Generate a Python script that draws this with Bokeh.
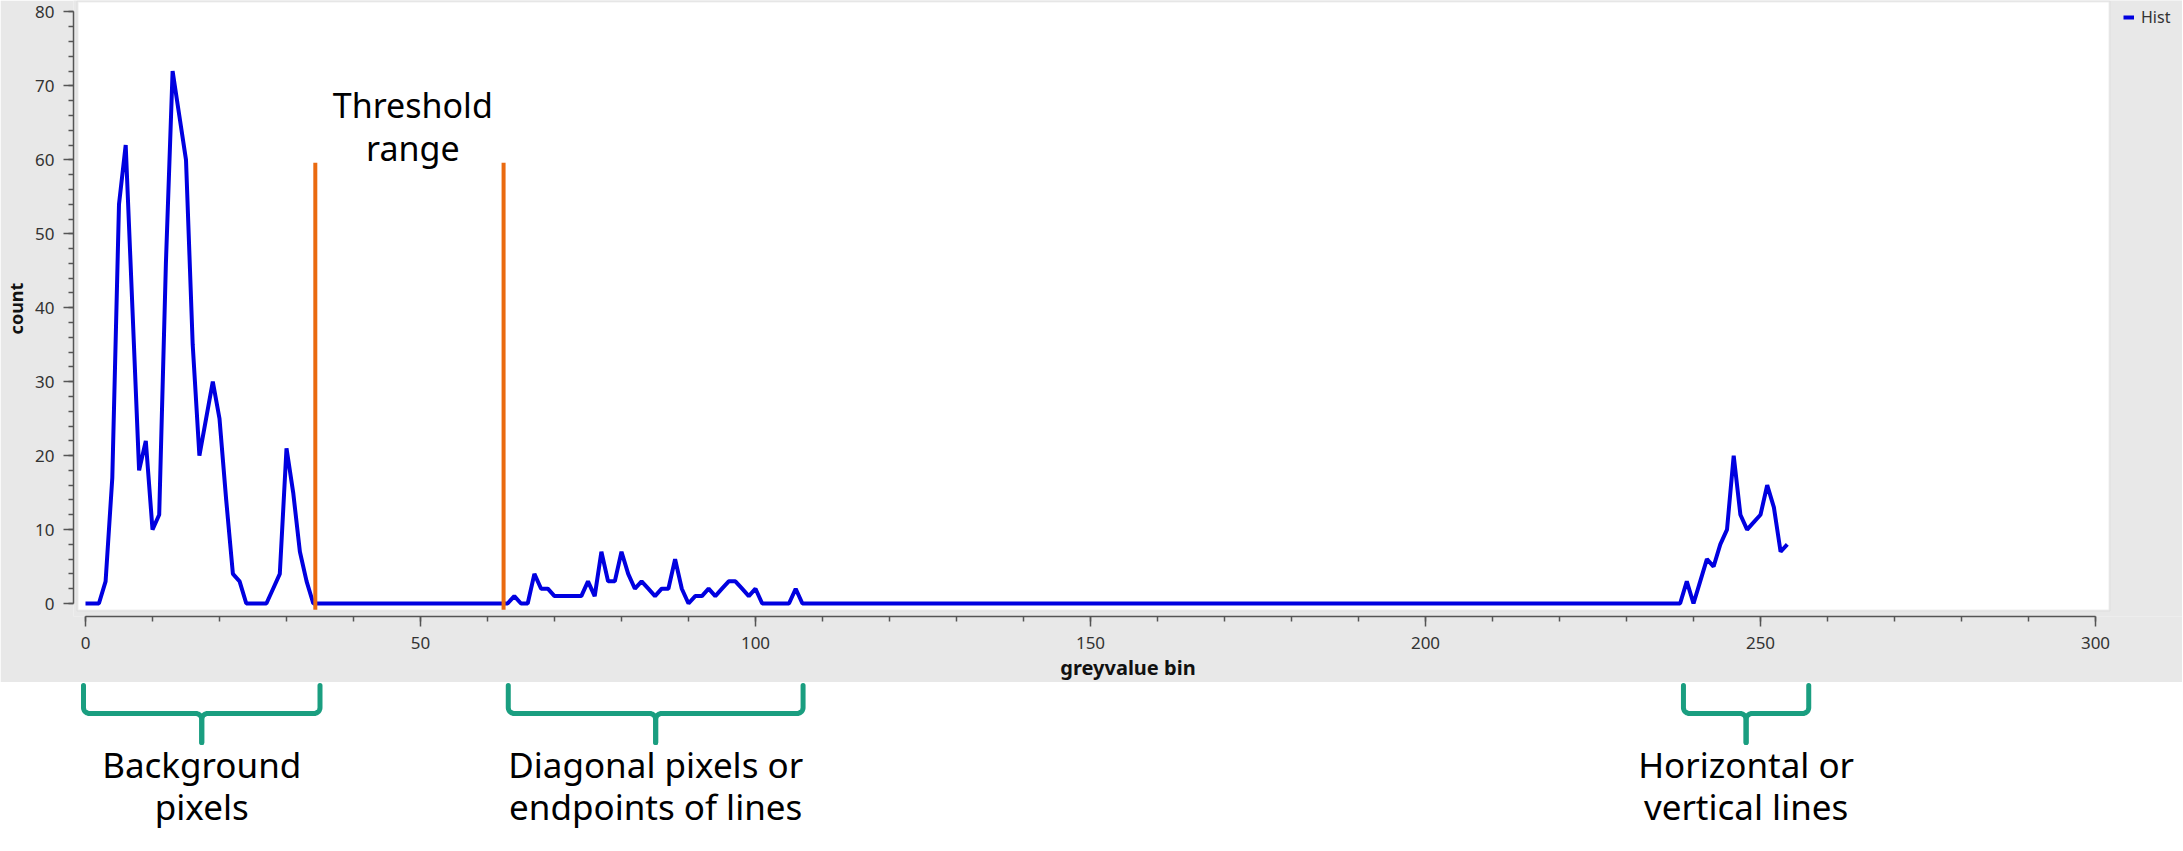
import numpy as np
from bokeh.plotting import figure
from bokeh.models import Range1d, BoxAnnotation, SingleIntervalTicker, Legend, LegendItem, Title
from bokeh.layouts import column
from bokeh.core.properties import value
from bokeh.embed import file_html
from bokeh.resources import INLINE

# ---------------- data ----------------
BINS = list(range(255))
COUNTS = [
    0, 0, 0, 3, 17, 54, 62, 40, 18, 22, 10, 12, 46, 72, 66, 60, 35, 20, 25, 30,      # 0-19
    25, 14, 4, 3, 0, 0, 0, 0, 2, 4, 21, 15, 7, 3, 0, 0, 0, 0, 0, 0,                 # 20-39
    0, 0, 0, 0, 0, 0, 0, 0, 0, 0, 0, 0, 0, 0, 0, 0, 0, 0, 0, 0,                     # 40-59
    0, 0, 0, 0, 1, 0, 0, 4, 2, 2, 1, 1, 1, 1, 1, 3, 1, 7, 3, 3,                     # 60-79
    7, 4, 2, 3, 2, 1, 2, 2, 6, 2, 0, 1, 1, 2, 1, 2, 3, 3, 2, 1,                     # 80-99
    2, 0, 0, 0, 0, 0, 2, 0, 0, 0, 0, 0, 0, 0, 0, 0, 0, 0, 0, 0,                     # 100-119
    0, 0, 0, 0, 0, 0, 0, 0, 0, 0, 0, 0, 0, 0, 0, 0, 0, 0, 0, 0,                     # 120-139
    0, 0, 0, 0, 0, 0, 0, 0, 0, 0, 0, 0, 0, 0, 0, 0, 0, 0, 0, 0,                     # 140-159
    0, 0, 0, 0, 0, 0, 0, 0, 0, 0, 0, 0, 0, 0, 0, 0, 0, 0, 0, 0,                     # 160-179
    0, 0, 0, 0, 0, 0, 0, 0, 0, 0, 0, 0, 0, 0, 0, 0, 0, 0, 0, 0,                     # 180-199
    0, 0, 0, 0, 0, 0, 0, 0, 0, 0, 0, 0, 0, 0, 0, 0, 0, 0, 0, 0,                     # 200-219
    0, 0, 0, 0, 0, 0, 0, 0, 0, 0, 0, 0, 0, 0, 0, 0, 0, 0, 0, 3,                     # 220-239
    0, 3, 6, 5, 8, 10, 20, 12, 10, 11, 12, 16, 13, 7, 8,                            # 240-254
]
SERIES_NAME = "Hist"
THRESHOLDS = [34.3, 62.4]
THRESH_TOP = 59.6
THRESH_LABEL = ["Threshold", "range"]
X_LABEL = "greyvalue bin"
Y_LABEL = "count"
X_BOUNDS = (0, 300)
Y_BOUNDS = (0, 80)
BRACKETS = [(-0.3, 35.0), (63.1, 107.1), (238.5, 257.2)]
BRACKET_LABELS = [["Background", "pixels"],
                  ["Diagonal pixels or", "endpoints of lines"],
                  ["Horizontal or", "vertical lines"]]

# ---------------- style / layout ----------------
W = 2182
TOP_H = 682
BOT_H = 168
GREY = "#e8e8e8"
BLUE = "#0000e0"
ORANGE = "#ea6a10"
TEAL = "#1a9e80"
AXIS_COL = "#555555"
TXT_COL = "#333333"
FONT = "Noto Sans"
PX_PER_BIN = 6.7

p = figure(width=W, height=TOP_H,
           x_range=Range1d(-1.791, 312.985), y_range=Range1d(-1.758, 81.555),
           output_backend="svg", toolbar_location=None,
           min_border_left=73, min_border_right=0, min_border_top=0, min_border_bottom=66)
p.background_fill_color = GREY
p.border_fill_color = GREY
p.outline_line_color = None
p.grid.visible = False

white = BoxAnnotation(left=-1.194, right=302.09, bottom=-0.947, top=81.42,
                      fill_color="white", fill_alpha=1.0,
                      line_color="#c8c8c8", line_width=2, level="underlay")
p.add_layout(white)

line_r = p.line(BINS, COUNTS, line_color=BLUE, line_width=4)

p.segment(x0=THRESHOLDS, y0=[-0.85] * len(THRESHOLDS), x1=THRESHOLDS,
          y1=[THRESH_TOP] * len(THRESHOLDS), line_color=ORANGE, line_width=4)

tx = (THRESHOLDS[0] + THRESHOLDS[1]) / 2 + 0.5
p.text(x=[tx, tx], y=[67.41, 61.54], text=THRESH_LABEL,
       text_align="center", text_baseline="alphabetic",
       text_font=value(FONT), text_font_size=value("34px"), text_color="black")

# axes
p.xaxis.ticker = SingleIntervalTicker(interval=50, num_minor_ticks=5)
p.yaxis.ticker = SingleIntervalTicker(interval=10, num_minor_ticks=5)
p.xaxis.bounds = X_BOUNDS
p.yaxis.bounds = Y_BOUNDS
p.yaxis.axis_label = Y_LABEL
for ax in (p.xaxis, p.yaxis):
    ax.axis_line_color = AXIS_COL
    ax.axis_line_width = 1.5
    ax.major_tick_line_color = AXIS_COL
    ax.minor_tick_line_color = AXIS_COL
    ax.major_tick_line_width = 1.5
    ax.minor_tick_line_width = 1.5
    ax.major_tick_in = 0
    ax.major_tick_out = 10
    ax.minor_tick_in = 0
    ax.minor_tick_out = 5
    ax.major_label_text_font = FONT
    ax.major_label_text_font_size = "17px"
    ax.major_label_text_color = TXT_COL
    ax.axis_label_text_font = FONT
    ax.axis_label_text_font_size = "18px"
    ax.axis_label_text_font_style = "bold"
    ax.axis_label_text_color = "#111111"
p.xaxis.major_label_standoff = 10
p.yaxis.major_label_standoff = 9
p.yaxis.axis_label_standoff = 4

xtitle = Title(text=X_LABEL, align="center", offset=-30, standoff=0,
               text_font=FONT, text_font_size="20px", text_font_style="bold",
               text_color="#111111")
p.add_layout(xtitle, "below")

legend = Legend(items=[LegendItem(label=SERIES_NAME, renderers=[line_r])],
                location=(2050, 588), background_fill_alpha=0, border_line_alpha=0,
                padding=0, margin=0, spacing=0, glyph_width=11, glyph_height=16,
                label_height=16, label_standoff=7,
                label_text_font=FONT, label_text_font_size="16px", label_text_color=TXT_COL)
p.add_layout(legend)

# ---------------- annotation strip below ----------------
p2 = figure(width=W, height=BOT_H, x_range=p.x_range, y_range=Range1d(BOT_H, 0),
            x_axis_location=None, y_axis_location=None,
            output_backend="svg", toolbar_location=None,
            min_border_left=73, min_border_right=0, min_border_top=0, min_border_bottom=0)
p2.background_fill_color = "white"
p2.border_fill_color = "white"
p2.outline_line_color = None
p2.grid.visible = False

Y_TOP, Y_MID, Y_TIP, R_PX = 3.0, 31.0, 60.0, 6.0
t = np.linspace(0, np.pi / 2, 12)
xs, ys = [], []
for (x0, x1) in BRACKETS:
    xc = (x0 + x1) / 2
    rx = R_PX / PX_PER_BIN
    lx = [x0] + list(x0 + rx - rx * np.cos(t)) + list(xc - rx + rx * np.sin(t)) + [xc]
    ly = [Y_TOP] + list(Y_MID - R_PX + R_PX * np.sin(t)) + list(Y_MID + R_PX - R_PX * np.cos(t)) + [Y_TIP]
    xs.append(lx)
    ys.append(ly)
    xs.append([x0 + x1 - v for v in lx])
    ys.append(ly)
p2.multi_line(xs, ys, line_color=TEAL, line_width=5, line_cap="round", line_join="round")

lab_x, lab_y, lab_t = [], [], []
for (x0, x1), lines in zip(BRACKETS, BRACKET_LABELS):
    for i, s in enumerate(lines):
        lab_x.append((x0 + x1) / 2)
        lab_y.append(81.5 + 42.5 * i)
        lab_t.append(s)
p2.text(x=lab_x, y=lab_y, text=lab_t, text_align="center", text_baseline="alphabetic",
        text_font=value(FONT), text_font_size=value("35px"), text_color="black")

layout = column(p, p2)
open("out.html", "w").write(file_html(layout, INLINE))
